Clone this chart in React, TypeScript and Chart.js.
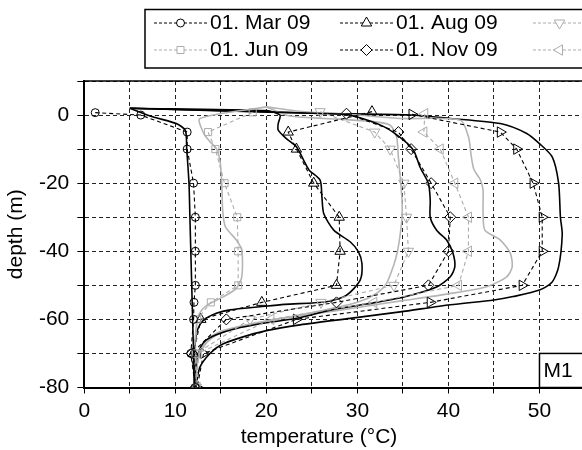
import React, { useEffect, useRef } from 'react';
import { Chart, registerables } from 'chart.js';
import { drawPoint } from 'chart.js/helpers';

Chart.register(...registerables);

const FONT = "'Liberation Sans', Arial, sans-serif";
const FS = 21;

// ---------- tick labels ----------
const xTickStep = 5;
const xLabelEvery = 10;
const yTickStep = 10;
const yLabelEvery = 20;
const xMin = 0;
const xMax = 55;
const yMin = -80;
const yMax = 10;

// ---------- legend ----------
const legendLabels = ['01. Mar 09', '01. Jun 09', '01. Aug 09', '01. Nov 09', '01. Feb 10', '01. May 10', '01. Aug 10'];

// ---------- measured profiles (dashed with markers) ----------
const marMeasTemp = [1.2, 6.2, 11.3, 11.3, 12.0, 12.2, 12.2, 12.2, 12.05, 12.0, 11.7, 12.2];
const marMeasDepth = [0.7, 0, -5, -10, -20, -30, -40, -50, -55, -60, -70, -80];

const junMeasTemp = [18.5, 13.6, 14.4, 15.4, 16.8, 16.9, 16.9, 13.9, 12.4, 12.2, 12.3];
const junMeasDepth = [0.8, -5, -10, -20, -30, -40, -50, -55, -60, -70, -80];

const augMeasTemp = [31.6, 22.4, 23.3, 25.2, 28.0, 28.1, 27.7, 19.5, 12.8, 12.0, 12.3];
const augMeasDepth = [1.0, -5, -10, -20, -30, -40, -50, -55, -60, -70, -80];

const novMeasTemp = [28.8, 34.5, 35.9, 38.1, 40.2, 40.0, 37.8, 27.7, 15.6, 11.8, 12.2];
const novMeasDepth = [0.4, -5, -10, -20, -30, -40, -50, -55, -60, -70, -80];

const febMeasTemp = [25.9, 31.9, 33.6, 35.1, 35.4, 35.6, 34.0, 26.0, 18.2, 12.3, 12.3];
const febMeasDepth = [1.0, -5, -10, -20, -30, -40, -50, -55, -60, -70, -80];

const mayMeasTemp = [37.4, 37.3, 39.1, 40.7, 42.2, 42.2, 41.1, 31.8, 20.5, 12.5, 12.4];
const mayMeasDepth = [0.4, -5, -10, -20, -30, -40, -50, -55, -60, -70, -80];

const aug10MeasTemp = [36.0, 45.7, 47.5, 49.3, 50.3, 50.3, 48.1, 38.0, 23.3, 13.1, 12.4];
const aug10MeasDepth = [0.2, -5, -10, -20, -30, -40, -50, -55, -60, -70, -80];

// ---------- simulated profiles (solid) ----------
const marSimTemp = [5, 7.5, 10.1, 11.1, 11.25, 11.5, 11.6, 11.7, 11.8, 11.9, 12.0, 12.1];
const marSimDepth = [2, -0.5, -2.5, -4.5, -10, -20, -30, -40, -50, -60, -70, -80];

const junSimTemp = [20, 12.7, 13.1, 13.8, 14.5, 14.9, 15.1, 15.2, 15.5, 16.7, 17.3, 17.3, 16.7, 15.3, 13.5, 12.7, 12.3, 12.1, 12.1];
const junSimDepth = [2.4, -1, -5.3, -7.8, -9.8, -13.3, -20, -28, -32.8, -36.7, -39.7, -47.5, -50.9, -53.3, -55.8, -58, -62, -70, -80];

const augSimTemp = [5, 20, 21.5, 21.3, 21.3, 22.2, 23.3, 24.1, 24.7, 25.9, 26.1, 26.3, 27.4, 29.2, 30.1, 30.5, 30.3, 28.8, 26.6, 22, 19.3, 16, 14.5, 13.1, 12.5, 12.2, 12.1, 12.1];
const augSimDepth = [2, 1.3, 0, -2.5, -4.4, -6.9, -9.3, -13.3, -16.2, -19.1, -24, -28.9, -33.8, -37.2, -40.1, -43.6, -48.5, -52.9, -54.8, -55.6, -56.3, -57.2, -58.2, -60.2, -62.6, -66, -72, -80];

const novSimTemp = [5, 28, 29.9, 32.9, 35.1, 36.2, 36.9, 37.8, 38, 38, 38.7, 39.8, 40.5, 40.7, 40.2, 38.7, 35, 31, 27, 23.7, 20, 16.5, 14.5, 13.2, 12.5, 12.2, 12.1];
const novSimDepth = [2, 0.3, -0.5, -3.4, -7.4, -10.5, -15.4, -20.1, -25, -30, -33.8, -36.7, -40.6, -44.6, -47.5, -50.5, -53.5, -55.5, -57.3, -59.5, -61, -62.8, -64.5, -66.5, -70, -75, -80];

const febSimTemp = [20, 22.6, 28, 32, 33.6, 34.3, 34.5, 34.7, 34.9, 34.9, 34.7, 34.4, 34.0, 33.2, 32.1, 30, 26, 22, 18, 15, 13.5, 12.7, 12.3, 12.2];
const febSimDepth = [2.4, -0.3, -1.2, -2, -3, -6.4, -12.3, -18.2, -25, -30, -35, -40, -44, -49.4, -52.4, -55, -57.5, -59.5, -61.5, -63.5, -66, -70, -75, -80];

const maySimTemp = [20, 24, 30, 34.7, 41.3, 42.2, 42.5, 42.8, 43.5, 43.8, 43.8, 44.0, 45.7, 46.8, 47.0, 46.4, 44.2, 40, 35, 30, 25, 20, 16, 14, 13, 12.4, 12.2];
const maySimDepth = [2.4, 1, 0, -1, -1.5, -6.4, -12, -16, -19, -22, -28, -33.8, -36.7, -40.6, -44.6, -47.5, -50.4, -52.5, -54.5, -56.5, -58.5, -60.5, -63, -65.5, -68.5, -73, -80];

const aug10SimTemp = [5, 26, 35.8, 40.2, 45.7, 48.6, 50.0, 51.4, 52.1, 52.3, 52.5, 52.1, 51.4, 50.0, 47.1, 45, 40.2, 34.7, 29.2, 23.7, 20, 17, 15, 13.8, 12.7, 12.3, 12.3];
const aug10SimDepth = [2, 0.5, 0, -1, -2.5, -5.4, -8.4, -12.3, -20, -30, -35, -44.6, -49, -51.4, -53.3, -54.3, -55.7, -57.8, -59.7, -61.6, -63.3, -65.5, -67.5, -70, -74, -79, -80];

const BLACK = '#000000';
const GRAY_MEAS = '#acacac';
const GRAY_SIM = '#b5b5b5';

const pts = (t: number[], d: number[]) => t.map((v, i) => ({ x: v, y: d[i] }));

type Marker = { style: string; rotation: number; radius: number };
const markers: Marker[] = [
  { style: 'circle', rotation: 0, radius: 4 },
  { style: 'rect', rotation: 0, radius: 5 },
  { style: 'triangle', rotation: 0, radius: 6 },
  { style: 'rectRot', rotation: 0, radius: 5.5 },
  { style: 'triangle', rotation: 180, radius: 6 },
  { style: 'triangle', rotation: 270, radius: 6 },
  { style: 'triangle', rotation: 90, radius: 6 },
];
const measColors = [BLACK, GRAY_MEAS, BLACK, BLACK, GRAY_MEAS, GRAY_MEAS, BLACK];

function measured(t: number[], d: number[], idx: number) {
  const m = markers[idx];
  return {
    label: legendLabels[idx],
    data: pts(t, d),
    showLine: true,
    borderColor: measColors[idx],
    borderWidth: 1.1,
    borderDash: [4, 3],
    pointStyle: m.style,
    pointRotation: m.rotation,
    pointRadius: m.radius,
    pointHoverRadius: m.radius,
    pointBorderColor: measColors[idx],
    pointBackgroundColor: 'rgba(0,0,0,0)',
    pointBorderWidth: 1,
    fill: false,
    tension: 0,
  };
}

function simulated(t: number[], d: number[], color: string) {
  return {
    label: '',
    data: pts(t, d),
    showLine: true,
    borderColor: color,
    borderWidth: 1.6,
    pointRadius: 0,
    pointHoverRadius: 0,
    fill: false,
    tension: 0.25,
  };
}

const decorPlugin = {
  id: 'decor',
  afterDraw(chart: any) {
    const { ctx, chartArea, scales } = chart;
    const xs = scales.x;
    const ys = scales.y;
    ctx.save();
    // top frame
    ctx.strokeStyle = '#000';
    ctx.lineWidth = 1.5;
    ctx.setLineDash([]);
    ctx.beginPath();
    ctx.moveTo(chartArea.left, chartArea.top);
    ctx.lineTo(chartArea.right + 20, chartArea.top);
    ctx.stroke();

    // M1 box
    const bx = xs.getPixelForValue(50);
    const by = ys.getPixelForValue(-70);
    const bb = ys.getPixelForValue(-80);
    ctx.fillStyle = '#fff';
    ctx.fillRect(bx, by, 200, bb - by);
    ctx.lineWidth = 1.5;
    ctx.strokeRect(bx, by, 200, bb - by);
    ctx.fillStyle = '#000';
    ctx.font = `${FS}px ${FONT}`;
    ctx.textAlign = 'left';
    ctx.textBaseline = 'middle';
    ctx.fillText('M1', bx + 4, (by + bb) / 2 + 1);

    // x title
    ctx.textAlign = 'center';
    ctx.fillText('temperature (°C)', 319, 437);

    // legend
    ctx.fillStyle = '#fff';
    ctx.fillRect(145, 9.5, 600, 58.5);
    ctx.lineWidth = 1.5;
    ctx.strokeStyle = '#000';
    ctx.strokeRect(145, 9.5, 600, 58.5);
    const colX = [154, 340, 533, 720];
    const rowY = [23, 50];
    legendLabels.forEach((lab, i) => {
      const col = Math.floor(i / 2);
      const row = i % 2;
      const x0 = colX[col];
      const y0 = rowY[row];
      const c = measColors[i];
      ctx.strokeStyle = c;
      ctx.lineWidth = 1.1;
      ctx.setLineDash([3, 2]);
      ctx.beginPath();
      ctx.moveTo(x0, y0);
      ctx.lineTo(x0 + 53, y0);
      ctx.stroke();
      ctx.setLineDash([]);
      ctx.fillStyle = '#fff';
      ctx.lineWidth = 1;
      const m = markers[i];
      drawPoint(ctx, { pointStyle: m.style, rotation: m.rotation, radius: m.radius, borderWidth: 1 } as any, x0 + 26.5, y0);
      ctx.fillStyle = '#000';
      ctx.textAlign = 'left';
      ctx.textBaseline = 'middle';
      ctx.font = `${FS}px ${FONT}`;
      ctx.fillText(lab, x0 + 56, y0);
    });
    ctx.restore();
  },
};

export default function App() {
  const ref = useRef<HTMLCanvasElement>(null);
  useEffect(() => {
    if (!ref.current) return;
    Chart.defaults.font.family = FONT;
    const chart = new Chart(ref.current, {
      type: 'scatter',
      data: {
        datasets: [
          measured(marMeasTemp, marMeasDepth, 0),
          measured(junMeasTemp, junMeasDepth, 1),
          measured(augMeasTemp, augMeasDepth, 2),
          measured(novMeasTemp, novMeasDepth, 3),
          measured(febMeasTemp, febMeasDepth, 4),
          measured(mayMeasTemp, mayMeasDepth, 5),
          measured(aug10MeasTemp, aug10MeasDepth, 6),
          simulated(marSimTemp, marSimDepth, BLACK),
          simulated(junSimTemp, junSimDepth, GRAY_SIM),
          simulated(augSimTemp, augSimDepth, BLACK),
          simulated(novSimTemp, novSimDepth, BLACK),
          simulated(febSimTemp, febSimDepth, GRAY_SIM),
          simulated(maySimTemp, maySimDepth, GRAY_SIM),
          simulated(aug10SimTemp, aug10SimDepth, BLACK),
        ] as any,
      },
      options: {
        responsive: false,
        animation: false,
        devicePixelRatio: 1,
        layout: { padding: { top: 81, right: 15, left: 0, bottom: 0 } },
        plugins: {
          legend: { display: false },
          tooltip: { enabled: false },
          title: { display: false },
        },
        scales: {
          x: {
            type: 'linear',
            position: 'bottom',
            min: xMin,
            max: xMax,
            afterFit: (s: any) => {
              s.height = 62.5;
            },
            ticks: {
              stepSize: xTickStep,
              autoSkip: false,
              maxRotation: 0,
              color: '#000',
              font: { size: FS },
              padding: 5,
              callback: (v: any) => (Number(v) % xLabelEvery === 0 ? String(v) : ''),
            },
            grid: { color: '#222', lineWidth: 1, tickLength: 6, tickColor: '#000', drawTicks: true },
            border: { display: true, color: '#000', width: 2, dash: [4, 3] },
            title: { display: false },
          },
          y: {
            type: 'linear',
            position: 'left',
            min: yMin,
            max: yMax,
            afterFit: (s: any) => {
              s.width = 84.3;
            },
            ticks: {
              stepSize: yTickStep,
              autoSkip: false,
              color: '#000',
              font: { size: FS },
              padding: 8,
              callback: (v: any) => (Number(v) % yLabelEvery === 0 ? String(v) : ''),
            },
            grid: { color: '#222', lineWidth: 1, tickLength: 7, tickColor: '#000', drawTicks: true },
            border: { display: true, color: '#000', width: 2, dash: [4, 3] },
            title: { display: true, text: 'depth (m)', color: '#000', font: { size: FS }, padding: { top: 4, bottom: 0 } },
          },
        },
      } as any,
      plugins: [decorPlugin],
    });
    return () => chart.destroy();
  }, []);
  return (
    <div style={{ position: 'absolute', left: 0, top: 0, width: 582, height: 450, overflow: 'hidden', background: '#fff' }}>
      <canvas ref={ref} width={600} height={450} style={{ display: 'block', width: 600, height: 450 }} />
    </div>
  );
}
